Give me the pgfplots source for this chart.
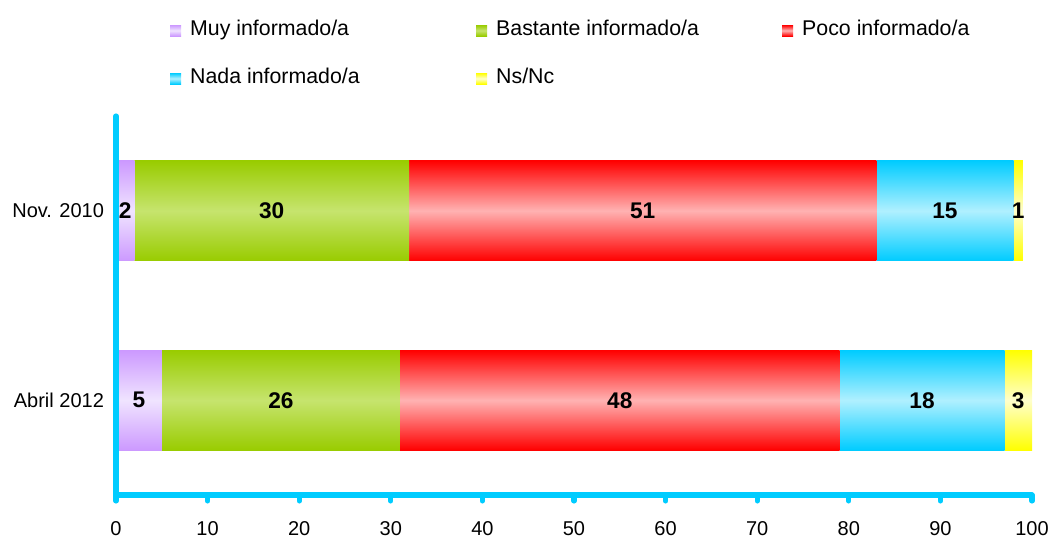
\documentclass[border=0pt]{standalone}
\usepackage{pgfplots}
\pgfplotsset{compat=1.18}
\usepackage{fontspec}
\setmainfont{Liberation Sans}
\definecolor{axc}{RGB}{0,204,255}
\definecolor{lavE}{RGB}{204,153,255}\definecolor{lavM}{RGB}{240,228,255}
\definecolor{grnE}{RGB}{153,204,0}\definecolor{grnM}{RGB}{198,228,110}
\definecolor{redE}{RGB}{255,0,0}\definecolor{redM}{RGB}{255,178,178}
\definecolor{cyaE}{RGB}{0,204,255}\definecolor{cyaM}{RGB}{176,240,255}
\definecolor{yelE}{RGB}{255,255,0}\definecolor{yelM}{RGB}{255,255,204}
\pgfplotsset{
  common/.style={
    scale only axis, width=687pt, height=284.25pt,
    xmin=0, xmax=100, ymin=-0.5, ymax=1.5,
  },
  grad/.style 2 args={draw=none, top color=#1, bottom color=#1, middle color=#2},
}
\begin{document}
\begin{tikzpicture}
% Abril 2012 bars (one bar per plot, so each bar has its own shading)
\begin{axis}[common, hide axis, xbar stacked, bar width=75pt]
\addplot[grad={lavE}{lavM}] coordinates {(5,0)};
\addplot[grad={grnE}{grnM}] coordinates {(26,0)};
\addplot[grad={redE}{redM}] coordinates {(48,0)};
\addplot[grad={cyaE}{cyaM}] coordinates {(18,0)};
\addplot[grad={yelE}{yelM}] coordinates {(3,0)};
\end{axis}
% main axis: Nov. 2010 bars, axis lines, ticks, legend
\begin{axis}[
  common,
  xbar stacked,
  bar width=75pt,
  clip=false,
  axis on top,
  axis lines*=left,
  axis line style={axc, line width=3.8pt, line cap=round},
  every tick/.style={axc, line width=3.8pt, line cap=round},
  tick align=outside,
  major tick length=4.5pt,
  xtick={0,10,...,100},
  ytick={0,1},
  yticklabels={Abril 2012, Nov. 2010},
  y tick style={draw=none},
  extra y ticks={-0.5,1.5},
  extra y tick labels={},
  extra y tick style={tick style={axc, line width=3.8pt, line cap=round}},
  tick label style={font=\fontsize{15}{18}\selectfont},
  /pgf/number format/assume math mode=true,
  xticklabel style={yshift=-12pt},
  yticklabel style={xshift=-1pt},
  legend columns=3,
  legend style={at={(0.0589,1.2525)}, anchor=north west, draw=none, fill=none,
    inner sep=0pt, row sep=21pt,
    font=\fontsize{16}{18}\selectfont,
    nodes={inner xsep=6.75pt, inner ysep=0pt, text height=11pt, text depth=4pt}},
  legend image code/.code={\path[#1] (0pt,-4.1pt) rectangle (8.25pt,4.1pt);},
]
\addplot[grad={lavE}{lavM}] coordinates {(2,1)};
\addlegendentry{\makebox[207.75pt][l]{Muy informado/a}}
\addplot[grad={grnE}{grnM}] coordinates {(30,1)};
\addlegendentry{\makebox[207.75pt][l]{Bastante informado/a}}
\addplot[grad={redE}{redM}] coordinates {(51,1)};
\addlegendentry{Poco informado/a}
\addplot[grad={cyaE}{cyaM}] coordinates {(15,1)};
\addlegendentry{\makebox[207.75pt][l]{Nada informado/a}}
\addplot[grad={yelE}{yelM}] coordinates {(1,1)};
\addlegendentry{\makebox[207.75pt][l]{Ns/Nc}}
\path (rel axis cs:-0.1266,-0.1108) rectangle (rel axis cs:1.024,1.306);
\end{axis}
% value labels, centred in each segment
\begin{axis}[common, hide axis, clip=false]
\addplot[draw=none, mark=none, nodes near coords, point meta=explicit symbolic,
  every node near coord/.style={anchor=center, font=\fontsize{17}{20}\bfseries}]
  coordinates {(1,1)[2] (17,1)[30] (57.5,1)[51] (90.5,1)[15] (98.5,1)[1]
               (2.5,0)[5] (18,0)[26] (55,0)[48] (88,0)[18] (98.5,0)[3]};
\end{axis}
\end{tikzpicture}
\end{document}
